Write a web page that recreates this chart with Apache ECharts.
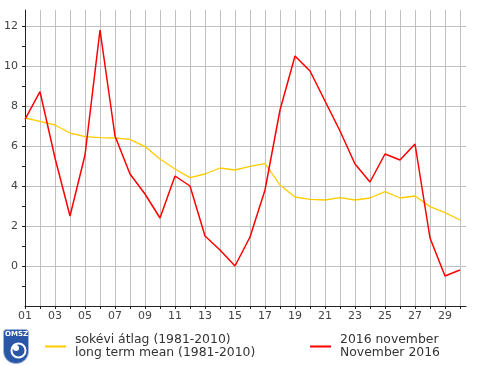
<!DOCTYPE html>
<html>
<head>
<meta charset="utf-8">
<script src="https://cdn.jsdelivr.net/npm/echarts@6/dist/echarts.min.js"></script>
<style>html,body{margin:0;padding:0;background:#fff}#c{width:490px;height:366px}</style>
</head>
<body>
<div id="c"></div>
<script>
var days = [1,2,3,4,5,6,7,8,9,10,11,12,13,14,15,16,17,18,19,20,21,22,23,24,25,26,27,28,29,30];
var meanName = 'sokévi átlag (1981-2010)\nlong term mean (1981-2010)';
var novName = '2016 november\nNovember 2016';
var meanValues = [7.4,7.23,7.05,6.65,6.47,6.42,6.4,6.33,5.97,5.35,4.85,4.42,4.6,4.9,4.8,4.98,5.12,4.05,3.45,3.33,3.3,3.42,3.3,3.4,3.72,3.4,3.5,2.97,2.67,2.3];
var novValues = [7.33,8.72,5.4,2.5,5.55,11.8,6.5,4.6,3.6,2.4,4.5,4.0,1.5,0.8,0.0,1.45,3.8,7.8,10.5,9.75,8.25,6.75,5.1,4.2,5.6,5.3,6.1,1.4,-0.5,-0.2];
var yTicks = [0,2,4,6,8,10,12];
var xLabelDays = [1,3,5,7,9,11,13,15,17,19,21,23,25,27,29];

function pairs(v){ return days.map(function(d,i){ return [d, v[i]]; }); }

var chart = echarts.init(document.getElementById('c'), null, {renderer:'canvas'});
var font = 'DejaVu Sans';
chart.setOption({
  animation: false,
  grid: {left: 25, top: 10, right: 24, bottom: 60, containLabel: false},
  xAxis: {
    type: 'value', min: 1, max: 30.4, interval: 1,
    axisLine: {show: true, onZero: false, lineStyle: {color: '#222', width: 1}},
    axisTick: {show: true, length: 3, customValues: days, lineStyle: {color: '#222'}},
    axisLabel: {customValues: xLabelDays, margin: 5, color: '#444', fontSize: 11, fontFamily: font,
      formatter: function(v){ return (v < 10 ? '0' : '') + v; }},
    splitLine: {show: true, showMinLine: false, showMaxLine: true, lineStyle: {color: '#c0c0c0', width: 1}}
  },
  yAxis: {
    type: 'value', min: -2, max: 12.8, interval: 2,
    axisLine: {show: true, onZero: false, lineStyle: {color: '#222', width: 1}},
    axisTick: {show: true, length: 3, customValues: yTicks, lineStyle: {color: '#222'}},
    minorTick: {show: true, splitNumber: 2, length: 3, lineStyle: {color: '#222'}},
    axisLabel: {customValues: yTicks, margin: 7, color: '#444', fontSize: 11, fontFamily: font},
    splitLine: {show: true, showMinLine: true, showMaxLine: true, lineStyle: {color: '#c0c0c0', width: 1}}
  },
  legend: [
    {data: [meanName], left: 45, top: 333, padding: 0, itemWidth: 21, itemHeight: 2, icon: 'rect',
      textStyle: {fontSize: 12.4, fontFamily: font, color: '#333', lineHeight: 13.5, padding: [0,0,0,4]}},
    {data: [novName], left: 310, top: 333, padding: 0, itemWidth: 21, itemHeight: 2, icon: 'rect',
      textStyle: {fontSize: 12.4, fontFamily: font, color: '#333', lineHeight: 13.5, padding: [0,0,0,4]}}
  ],
  graphic: [
    {type: 'rect', left: 3, top: 329, shape: {width: 25, height: 34, r: [3,3,12,12]},
      style: {fill: '#2a56a8', stroke: '#9fb4dd', lineWidth: 1}},
    {type: 'text', left: 5, top: 331, style: {text: 'OMSZ', fill: '#fff', font: 'bold 7px DejaVu Sans'}},
    {type: 'circle', left: 9, top: 341, shape: {r: 7}, style: {fill: 'none', stroke: '#fff', lineWidth: 2}},
    {type: 'circle', left: 13, top: 345, shape: {r: 3}, style: {fill: '#fff'}}
  ],
  series: [
    {name: meanName, type: 'line', data: pairs(meanValues), symbol: 'none',
      lineStyle: {color: '#ffcc00', width: 1.3}, itemStyle: {color: '#ffcc00'}, z: 2},
    {name: novName, type: 'line', data: pairs(novValues), symbol: 'none',
      lineStyle: {color: '#ff0000', width: 1.5}, itemStyle: {color: '#ff0000'}, z: 3}
  ]
});
</script>
</body>
</html>
